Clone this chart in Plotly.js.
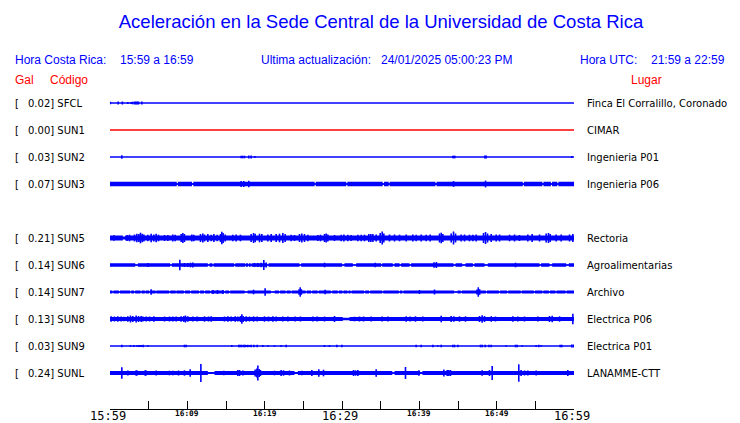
<!DOCTYPE html>
<html>
<head>
<meta charset="utf-8">
<script src="https://cdn.plot.ly/plotly-3.0.1.min.js"></script>
<style>html,body{margin:0;padding:0;background:#fff;}#chart{width:740px;height:423px;}</style>
</head>
<body>
<div id="chart"></div>
<script>
// ---------------- DATA ----------------
const stations = ['SFCL','SUN1','SUN2','SUN3','SUN5','SUN6','SUN7','SUN8','SUN9','SUNL'];
const slots    = [0,1,2,3,5,6,7,8,9,10];
const peakGal  = ['0.02','0.00','0.03','0.07','0.21','0.14','0.14','0.13','0.03','0.24'];
const places   = ['Finca El Corralillo, Coronado','CIMAR','Ingenieria P01','Ingenieria P06','Rectoria',
                  'Agroalimentarias','Archivo','Electrica P06','Electrica P01','LANAMME-CTT'];
const dead     = [false,true,false,false,false,false,false,false,false,false];
// background (noise) amplitude of each trace, relative units (27 = one trace spacing)
const baseAmp  = [0,0,0,2.2,2.6,1.7,1.4,2.0,0,2.0];

// quieter stretches: [start min, end min, amplitude]
const gapsSFCL = [];
const gapsSUN1 = [];
const gapsSUN2 = [];
const gapsSUN3 = [[8.63,8.77,0.8],[10.6,10.78,0.8],[26.46,26.6,0.8],[30.55,30.69,0.8],[35.26,35.43,0.8],
  [36.04,36.16,0.8],[42.08,42.22,0.8],[53.38,53.52,0.8],[55.91,56.05,0.8],[57.02,57.16,0.8],[57.84,57.98,0.8]];
const gapsSUN5 = [[1.66,1.96,1.6]];
const gapsSUN6 = [[3.26,3.6,0.6],[7.78,8.0,0.6],[12.65,12.87,0.6],[13.25,13.4,0.6],[16.05,16.2,0.6],
  [17.45,17.55,0.6],[17.85,17.95,0.6],[18.2,18.3,0.6],[20.32,20.5,0.6],[24.5,24.72,0.6],[30.02,30.32,0.6],
  [31.4,31.83,0.6],[35.06,35.2,0.6],[36.57,36.79,0.6],[37.44,37.65,0.6],[38.73,38.94,0.6],[44.42,44.68,0.6],
  [45.54,45.97,0.6],[46.92,47.13,0.6],[48.43,48.86,0.6],[55.54,55.75,0.6],[56.83,57.18,0.6],[58.99,59.33,0.6]];
const gapsSUN7 = [[0.3,0.45,0.6],[1.15,1.3,0.6],[2.6,2.75,0.6],[3.1,3.25,0.6],[3.95,4.1,0.6],[4.5,4.6,0.6],
  [5.05,5.15,0.6],[5.9,6.0,0.6],[7.65,7.8,0.6],[8.5,8.6,0.6],[9.55,9.7,0.6],[10.35,10.5,0.6],[11.5,11.65,0.6],
  [12.15,12.3,0.6],[12.95,13.05,0.6],[14.75,14.9,0.6],[15.4,15.55,0.6],[17.4,17.8,0.6],[20.8,21.3,0.6],
  [21.85,22.0,0.6],[22.7,22.85,0.6],[23.35,23.5,0.6],[25.3,25.45,0.6],[26.0,26.15,0.6],[26.85,27.0,0.6],
  [28.55,28.75,0.6],[29.45,29.6,0.6],[30.05,30.2,0.6],[30.7,30.85,0.6],[31.1,31.25,0.6],[32.85,33.0,0.6],
  [33.5,33.65,0.6],[35.2,35.35,0.6],[37.35,37.5,0.6],[37.8,37.95,0.6],[44.5,44.95,0.6],[45.35,45.5,0.6],
  [48.6,48.75,0.6],[50.3,50.45,0.6],[51.35,51.5,0.6],[53.1,53.25,0.6],[54.8,54.95,0.6],[55.9,56.05,0.6],
  [56.75,56.9,0.6],[57.6,57.75,0.6],[58.9,59.05,0.6]];
const gapsSUN8 = [[30.1,30.97,1.2]];
const gapsSUN9 = [];
const gapsSUNL = [[12.65,13.51,1.0],[23.86,24.29,1.0],[36.5,36.8,0.8],[40.1,40.4,1.0]];

// bursts / peaks: [minute, amplitude]
const spikesSFCL = [[0.05,1.2],[1.06,1.5],[1.6,1.5],[2.3,1.0],[2.74,1.0],[2.91,1.3],[3.17,1.5],[3.34,1.5],
  [3.51,1.5],[3.69,1.5],[4.12,1.5]];
const spikesSUN1 = [];
const spikesSUN2 = [[1.53,1.8],[16.96,1.3],[17.15,1.3],[17.39,1.3],[17.95,1.5],[18.25,1.5],[18.73,1.0],
  [44.33,1.3],[44.46,1.3],[44.59,1.3],[48.47,1.5],[48.64,1.5],[59.72,1.0]];
const spikesSUN3 = [[16.96,2.9],[17.31,2.9],[17.95,3.2],[44.42,2.9],[48.56,3.4]];
const spikesSUN5 = [[0.5,2.8],[2.22,3.0],[2.52,3.3],[3.17,3.5],[3.47,4.3],[3.73,4.0],[3.94,5.3],[4.16,4.3],
  [4.38,3.5],[4.89,3.3],[5.32,4.3],[5.67,3.5],[5.97,4.3],[6.27,3.3],[7.05,3.0],[7.48,3.0],[8.12,3.5],[8.43,3.3],
  [9.2,4.0],[9.42,5.0],[9.63,4.0],[10.58,3.5],[10.84,3.3],[11.7,4.0],[12.0,4.5],[12.22,3.5],[12.65,4.0],
  [13.08,3.3],[13.43,4.0],[13.86,3.3],[14.29,4.0],[14.46,6.3],[14.63,5.0],[14.89,3.5],[15.88,3.3],[16.31,3.5],
  [16.87,3.3],[18.25,4.0],[18.56,5.0],[18.77,4.3],[19.33,4.3],[19.63,4.0],[20.41,3.5],[20.84,4.0],[21.49,4.0],
  [21.92,4.3],[22.35,5.0],[22.65,4.0],[23.43,3.3],[23.86,3.0],[24.5,4.0],[24.8,4.5],[25.15,4.0],[25.58,3.3],
  [26.88,3.0],[27.22,3.3],[27.74,4.0],[27.95,4.5],[28.17,3.5],[29.03,3.0],[29.89,3.3],[30.24,3.5],[30.75,3.3],
  [31.18,3.0],[32.05,3.3],[32.48,3.3],[32.91,3.3],[33.47,4.0],[33.73,4.0],[33.99,4.0],[34.42,3.5],[34.94,5.0],
  [35.2,6.5],[35.41,4.5],[36.14,3.5],[36.79,3.5],[37.44,3.3],[38.3,3.5],[39.16,3.5],[39.59,3.3],[40.24,3.5],
  [40.88,3.3],[41.4,3.5],[42.61,4.5],[42.83,5.3],[43.04,4.0],[44.12,4.5],[44.42,6.5],[44.68,4.5],[45.41,3.5],
  [45.84,3.5],[46.49,3.3],[46.92,3.3],[47.35,3.5],[48.3,5.0],[48.56,6.0],[48.82,4.5],[49.29,4.0],[49.94,3.5],
  [50.37,3.5],[51.66,3.3],[52.31,3.5],[52.95,3.0],[54.03,3.5],[54.59,4.0],[55.54,3.5],[56.4,4.5],[56.7,5.0],
  [56.92,4.0],[57.69,3.5],[58.34,3.5],[59.42,3.5],[59.85,4.0]];
const spikesSUN6 = [[4.89,2.0],[9.03,5.2],[9.63,2.0],[10.06,2.0],[10.41,2.3],[10.71,2.5],[18.69,2.0],
  [19.12,2.0],[19.55,2.3],[19.89,5.0],[20.19,2.5],[27.74,2.3],[34.29,2.3],[41.9,2.8],[42.2,3.0],[52.44,2.3]];
const spikesSUN7 = [[5.32,2.7],[13.32,2.0],[13.9,2.0],[14.6,2.0],[18.56,2.3],[20.06,3.7],[24.45,2.8],
  [24.6,4.7],[24.75,2.8],[27.82,2.3],[40.02,2.0],[41.96,2.5],[47.45,2.6],[47.62,4.7],[47.8,2.8]];
const spikesSUN8 = [[0.15,2.7],[0.58,2.5],[1.01,2.7],[1.44,2.5],[1.79,2.3],[2.31,2.7],[2.65,3.5],[2.95,3.0],
  [3.38,3.5],[3.69,3.0],[4.03,3.0],[4.25,2.5],[4.68,2.5],[5.11,2.5],[5.67,2.7],[7.05,2.5],[7.69,2.5],[8.12,2.5],
  [8.56,2.5],[9.2,2.7],[9.55,3.0],[9.76,3.5],[10.06,2.7],[10.71,2.5],[11.27,2.5],[12.22,2.7],[12.74,2.5],
  [13.08,2.7],[14.8,2.5],[15.24,2.7],[15.67,2.5],[16.19,2.7],[16.53,2.5],[16.88,3.0],[17.05,4.8],[17.22,3.0],
  [17.61,2.7],[18.04,2.5],[18.56,2.7],[19.03,2.5],[19.98,2.7],[20.5,2.5],[21.06,2.7],[21.49,2.5],[22.35,2.5],
  [23.0,2.5],[23.94,2.5],[24.63,2.5],[26.23,2.5],[26.79,2.5],[27.74,2.5],[29.03,3.0],[31.62,2.3],[32.26,2.5],
  [32.78,2.5],[33.77,2.5],[35.19,2.5],[35.93,2.5],[38.3,2.7],[38.81,2.5],[39.5,2.7],[40.45,2.5],[42.83,3.3],
  [44.12,3.0],[44.46,2.7],[45.19,2.7],[45.97,2.7],[47.78,3.0],[48.12,3.8],[48.43,3.0],[49.29,2.7],[49.85,2.5],
  [52.09,2.7],[52.74,2.5],[53.6,2.5],[55.32,2.5],[56.83,3.0],[57.18,3.3],[58.13,2.7],[59.85,5.3]];
const spikesSUN9 = [[1.53,1.3],[2.65,0.8],[3.08,1.0],[3.47,0.8],[3.73,1.0],[3.9,1.0],[4.03,1.0],[4.29,1.3],
  [4.89,0.8],[9.63,1.3],[9.85,1.3],[15.75,1.0],[16.66,1.3],[16.83,1.3],[17.05,1.3],[17.31,1.3],[17.48,1.3],
  [17.61,1.0],[17.82,1.3],[18.04,1.0],[18.25,1.3],[18.6,1.3],[19.03,1.3],[19.76,1.0],[20.41,0.8],[21.27,0.8],
  [22.13,1.0],[22.78,1.3],[27.74,1.0],[28.38,1.0],[29.33,1.3],[29.98,1.3],[39.59,1.3],[40.24,1.3],[41.75,1.3],
  [42.39,0.8],[42.83,1.3],[44.33,1.3],[44.55,1.3],[44.98,1.3],[47.91,1.3],[48.13,1.3],[48.52,1.3],[49.0,1.3],
  [49.29,1.3],[51.23,0.8],[52.44,1.3],[52.65,1.3],[53.3,0.8],[55.11,1.0],[55.45,1.3],[55.75,0.8],[58.21,1.3],
  [58.42,1.3],[59.72,1.5],[59.93,1.5]];
const spikesSUNL = [[1.53,5.7],[2.31,2.5],[3.38,2.7],[3.51,2.5],[4.55,2.7],[4.68,2.5],[5.97,2.5],[7.69,2.3],
  [8.12,2.3],[8.86,2.5],[9.63,2.7],[10.37,3.7],[11.75,9.0],[14.72,2.3],[16.53,3.0],[16.75,3.0],[17.18,2.5],
  [18.77,3.5],[18.99,4.5],[19.12,7.5],[19.29,4.0],[19.46,3.0],[21.27,2.3],[22.13,3.0],[22.44,2.7],[23.21,2.5],
  [24.81,2.3],[26.1,3.0],[27.0,3.7],[27.61,3.3],[31.49,3.0],[31.75,2.7],[32.05,3.0],[34.42,3.7],[38.21,6.0],
  [39.94,2.7],[43.17,3.5],[43.6,3.0],[43.81,3.0],[44.03,3.0],[48.12,2.7],[49.07,3.0],[49.42,7.0],[52.86,8.7],
  [53.16,3.0],[53.6,2.5],[54.03,2.5],[55.11,2.5],[56.83,1.5],[59.2,3.0]];

const gapsList   = [gapsSFCL,gapsSUN1,gapsSUN2,gapsSUN3,gapsSUN5,gapsSUN6,gapsSUN7,gapsSUN8,gapsSUN9,gapsSUNL];
const spikesList = [spikesSFCL,spikesSUN1,spikesSUN2,spikesSUN3,spikesSUN5,spikesSUN6,spikesSUN7,spikesSUN8,spikesSUN9,spikesSUNL];

// time axis (minutes after 15:59)
const tickMinutes = [0,5,10,15,20,25,30,35,40,45,50,55,60];
const labelMinutes = [0,10,20,30,40,50,60];
const labelTexts   = ['15:59','16:09','16:19','16:29','16:39','16:49','16:59'];
const labelMajor   = [true,false,false,true,false,false,true];

const header = {
  crLabel:'Hora Costa Rica:', crRange:'15:59 a 16:59',
  updLabel:'Ultima actualización:', updValue:'24/01/2025 05:00:23 PM',
  utcLabel:'Hora UTC:', utcRange:'21:59 a 22:59'
};
const titleText = 'Aceleración en la Sede Central de la Universidad de Costa Rica';

// ---------------- DRAWING ----------------
const W=740, H=423, ML=110, MR=166, MT=76, MB=14;
const PW=W-ML-MR, PH=H-MT-MB;
const SPACING = 27;   // amplitude units per trace spacing
const BLUE='#0000ff', RED='#ff0000';
const px = x => (x-ML)/PW;
const py = y => (H-MB-y)/PH;

const traces=[];
stations.forEach((s,i)=>{
  const off=-slots[i];
  const col = dead[i]?RED:BLUE;
  if(baseAmp[i]>0){
    const gx=[], gy=[];
    const gaps=gapsList[i].slice().sort((a,b)=>a[0]-b[0]);
    let cur=0;
    const segs=[];
    gaps.forEach(g=>{ segs.push([cur,g[0],baseAmp[i]]); segs.push([g[0],g[1],g[2]]); cur=g[1]; });
    segs.push([cur,60,baseAmp[i]]);
    segs.forEach(sg=>{
      const a=sg[2]/SPACING;
      gx.push(sg[0],sg[1],sg[1],sg[0],sg[0],null);
      gy.push(off+a,off+a,off-a,off-a,off+a,null);
    });
    traces.push({x:gx,y:gy,mode:'lines',fill:'toself',fillcolor:col,line:{width:0,color:col},hoverinfo:'skip',showlegend:false});
  }
  const sp=spikesList[i];
  if(sp.length){
    const sx=[], sy=[];
    sp.forEach(p=>{ const a=p[1]/SPACING; sx.push(p[0],p[0],null); sy.push(off+a,off-a,null); });
    traces.push({x:sx,y:sy,mode:'lines',line:{width:1.6,color:col},hoverinfo:'skip',showlegend:false});
  }
  traces.push({x:[0,60],y:[off,off],mode:'lines',line:{width:1.3,color:col},hoverinfo:'skip',showlegend:false});
});

const ann=[];
const lblFont={family:'DejaVu Sans',size:10,color:'#000'};
stations.forEach((s,i)=>{
  const off=-slots[i];
  ann.push({xref:'paper',yref:'y',x:px(14),y:off,xanchor:'left',yanchor:'middle',text:'[',showarrow:false,font:lblFont,borderpad:0});
  ann.push({xref:'paper',yref:'y',x:px(26.5),y:off,xanchor:'left',yanchor:'middle',text:peakGal[i]+'] '+s,showarrow:false,font:lblFont,borderpad:0});
  ann.push({xref:'paper',yref:'y',x:px(586),y:off,xanchor:'left',yanchor:'middle',text:places[i],showarrow:false,font:lblFont,borderpad:0});
});
const hFont={family:'Liberation Sans, Arial',size:12,color:BLUE};
const rFont={family:'Liberation Sans, Arial',size:12,color:RED};
const hdr=[[13.5,header.crLabel],[119,header.crRange],[259.5,header.updLabel],[379.5,header.updValue],[579,header.utcLabel],[650,header.utcRange]];
hdr.forEach(h=>ann.push({xref:'paper',yref:'paper',x:px(h[0]),y:py(60),xanchor:'left',yanchor:'middle',text:h[1],showarrow:false,font:hFont,borderpad:0}));
ann.push({xref:'paper',yref:'paper',x:px(13.5),y:py(80.5),xanchor:'left',yanchor:'middle',text:'Gal',showarrow:false,font:rFont,borderpad:0});
ann.push({xref:'paper',yref:'paper',x:px(49),y:py(80.5),xanchor:'left',yanchor:'middle',text:'Código',showarrow:false,font:rFont,borderpad:0});
ann.push({xref:'paper',yref:'paper',x:px(630),y:py(80.5),xanchor:'left',yanchor:'middle',text:'Lugar',showarrow:false,font:rFont,borderpad:0});
labelMinutes.forEach((m,k)=>{
  const major=labelMajor[k];
  ann.push({xref:'x',yref:'paper',x:m,y:py(major?415.8:413.8),xanchor:'center',yanchor:'middle',
    text:major?labelTexts[k]:'<b>'+labelTexts[k]+'</b>',showarrow:false,
    xshift: major?-2:0,
    font:{family:'DejaVu Sans Mono',size:major?12:7.8,color:'#000'},borderpad:0});
});

const layout={
  width:W,height:H,margin:{l:ML,r:MR,t:MT,b:MB,pad:0},
  paper_bgcolor:'#fff',plot_bgcolor:'#fff',showlegend:false,
  title:{text:titleText,x:381/W,xanchor:'center',y:1-22/H,yanchor:'middle',font:{family:'Liberation Sans, Arial',size:18.5,color:BLUE}},
  xaxis:{range:[0,60],tickmode:'array',tickvals:tickMinutes,ticks:'inside',ticklen:8,tickwidth:1,tickcolor:'#000',
    showticklabels:false,showline:true,linecolor:'#000',linewidth:1,showgrid:false,zeroline:false,fixedrange:true},
  yaxis:{range:[-11.333,1],visible:false,showgrid:false,zeroline:false,fixedrange:true},
  annotations:ann
};
Plotly.newPlot('chart',traces,layout,{displayModeBar:false,staticPlot:true});
</script>
</body>
</html>
